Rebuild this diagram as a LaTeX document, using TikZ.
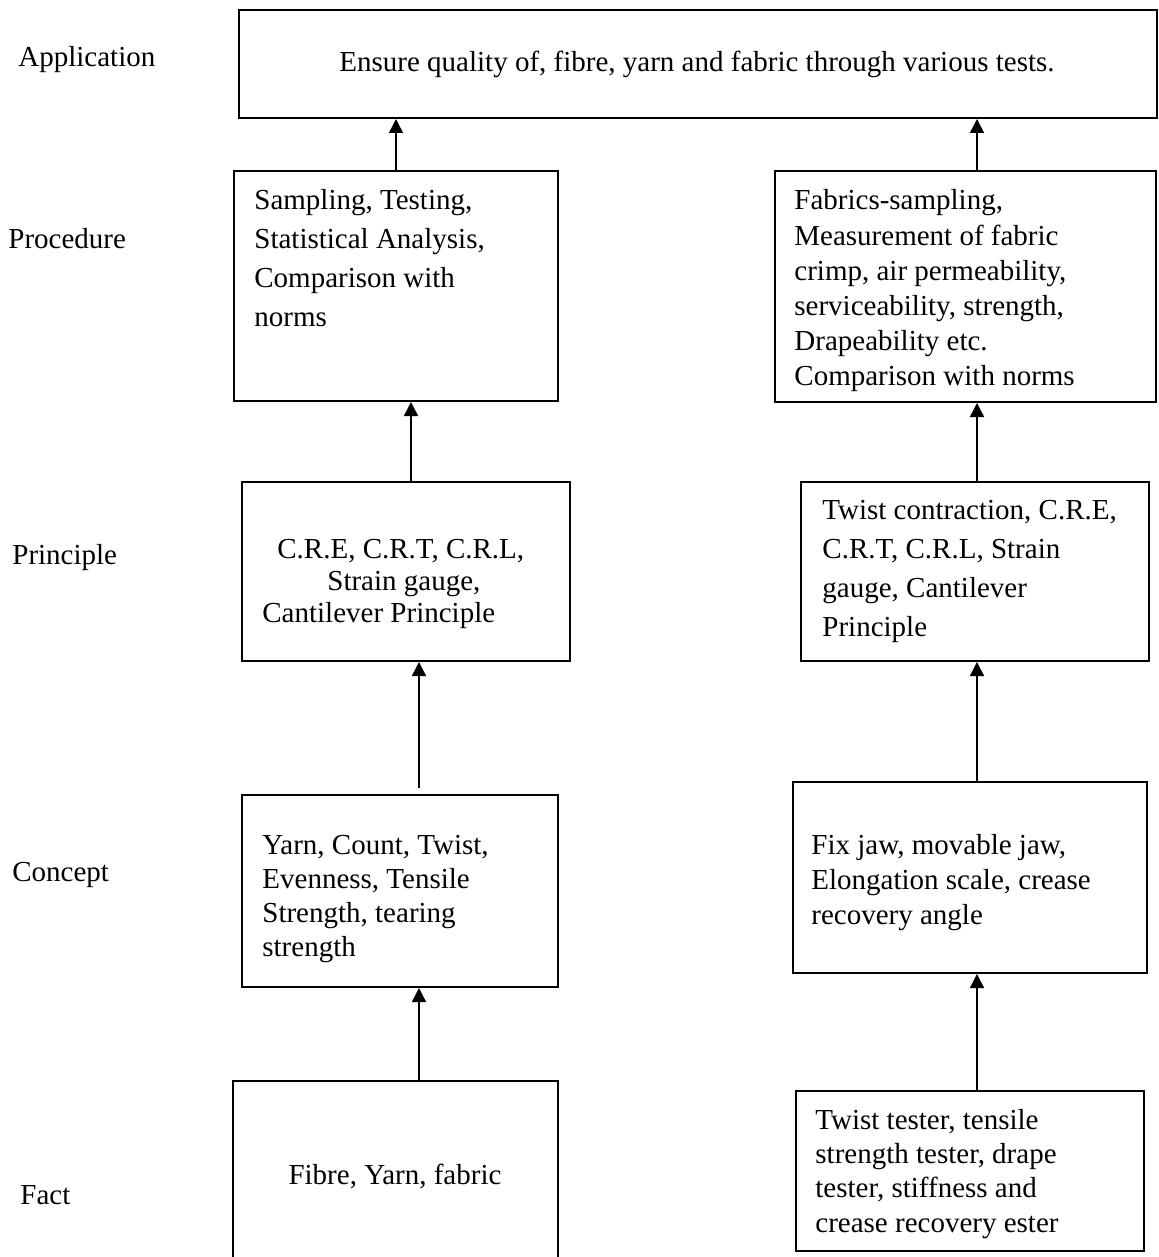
\documentclass[tikz,border=0pt]{standalone}
\usepackage{fontspec}
\setmainfont{Liberation Serif}
\usetikzlibrary{arrows.meta}
\newcommand\leftlines[1]{\begin{tabular}[t]{@{}l@{}}#1\end{tabular}}
\begin{document}
\begin{tikzpicture}[x=0.5pt,y=-0.5pt,
  box/.style={draw,line width=1pt,inner sep=0pt},
  arr/.style={line width=0.75pt,-{Triangle[length=7pt,width=7pt]}},
  txt/.style={inner sep=0pt,anchor=base west},
  lab/.style={inner sep=0pt,anchor=base west,font=\fontsize{14.5}{17}\selectfont}]
\useasboundingbox (0,0) rectangle (1158,1257);
% boxes, placed by their corners
\node[box,fit/.style={},minimum width=459pt,minimum height=54pt] (app) at (697.5,64) {};
\node[box,minimum width=162pt,minimum height=115pt] (pl) at (396,286) {};
\node[box,minimum width=190.5pt,minimum height=115.5pt] (pr) at (965.5,286.5) {};
\node[box,minimum width=164pt,minimum height=89.5pt] (ql) at (406,571.5) {};
\node[box,minimum width=174pt,minimum height=89.5pt] (qr) at (975,571.5) {};
\node[box,minimum width=158pt,minimum height=96pt] (cl) at (400,891) {};
\node[box,minimum width=177pt,minimum height=95.5pt] (cr) at (970,877.5) {};
\node[box,minimum width=162.5pt,minimum height=92pt] (fl) at (395.5,1173) {};
\node[box,minimum width=174pt,minimum height=80pt] (fr) at (970,1171) {};
% level labels
\node[lab] (lapp) at (18,67) {Application};
\node[lab] (lproc) at (8,249) {Procedure};
\node[lab] (lprin) at (12,564) {Principle};
\node[lab] (lconc) at (12,881) {Concept};
\node[lab] (lfact) at (20,1204) {Fact};
% box texts
\node[inner sep=0pt,anchor=base,font=\fontsize{14.5}{17}\selectfont] (tapp) at (697,72)
  {Ensure quality of, fibre, yarn and fabric through various tests.};
\node[txt,font=\fontsize{14.5}{19.5}\selectfont] (tpl) at (254,210)
  {\leftlines{Sampling, Testing,\\Statistical Analysis,\\Comparison with\\norms}};
\node[txt,font=\fontsize{14.5}{17.6}\selectfont] (tpr) at (794,210)
  {\leftlines{Fabrics-sampling,\\Measurement of fabric\\crimp, air permeability,\\serviceability, strength,\\Drapeability etc.\\Comparison with norms}};
\node[txt,font=\fontsize{14.5}{16}\selectfont] (tql) at (262,558)
  {\leftlines{\hspace{7.5pt}C.R.E, C.R.T, C.R.L,\\\hspace{32.5pt}Strain gauge,\\Cantilever Principle}};
\node[txt,font=\fontsize{14.5}{19.5}\selectfont] (tqr) at (822,519)
  {\leftlines{Twist contraction, C.R.E,\\C.R.T, C.R.L, Strain\\gauge, Cantilever\\Principle}};
\node[txt,font=\fontsize{14.5}{17}\selectfont] (tcl) at (262,854)
  {\leftlines{Yarn, Count, Twist,\\Evenness, Tensile\\Strength, tearing\\strength}};
\node[txt,font=\fontsize{14.5}{17.5}\selectfont] (tcr) at (811,854)
  {\leftlines{Fix jaw, movable jaw,\\Elongation scale, crease\\recovery angle}};
\node[inner sep=0pt,anchor=base,font=\fontsize{14.5}{17}\selectfont] (tfl) at (395,1184)
  {Fibre, Yarn, fabric};
\node[txt,font=\fontsize{14.5}{17.2}\selectfont] (tfr) at (815,1129)
  {\leftlines{Twist tester, tensile\\strength tester, drape\\tester, stiffness and\\crease recovery ester}};
% connectors
\coordinate (cltop) at (419,788);
\draw[arr] (pl.north -| 396,0) -- (app.south -| 396,0);
\draw[arr] (pr.north -| 977,0) -- (app.south -| 977,0);
\draw[arr] (ql.north -| 411,0) -- (pl.south -| 411,0);
\draw[arr] (qr.north -| 977,0) -- (pr.south -| 977,0);
\draw[arr] (cltop) -- (ql.south -| cltop);
\draw[arr] (cr.north -| 977,0) -- (qr.south -| 977,0);
\draw[arr] (fl.north -| 419,0) -- (cl.south -| 419,0);
\draw[arr] (fr.north -| 977,0) -- (cr.south -| 977,0);
\end{tikzpicture}
\end{document}
